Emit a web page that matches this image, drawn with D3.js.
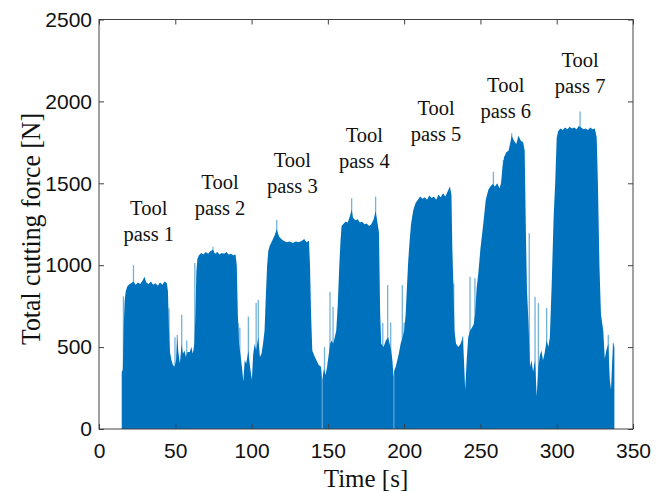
<!DOCTYPE html>
<html>
<head>
<meta charset="utf-8">
<script src="https://cdn.jsdelivr.net/npm/d3@7"></script>
<style>
  body { margin: 0; background: #fff; }
  svg { display: block; }
</style>
</head>
<body>
<div id="chart"></div>
<script>
// Upper envelope of the force signal (time in s, force in N)
const envTime = [
  14.9, 14.9, 15.6, 16.2, 16.8, 17.5, 18.5, 19.5, 21, 22.6, 24, 25.5, 27, 28.5, 29.8, 31, 32.5, 34, 35.5, 37, 38.5, 40, 41.5, 43, 44.5, 45.2,
  45.8, 46.5, 47.5, 48.5, 49.5, 50.5, 51.3, 52, 53, 54.2, 55, 56, 57, 58, 59.5, 60.5, 61.5, 62.5, 63.2, 63.8, 64.5,
  65.5, 67, 68.5, 70, 71.5, 73, 74.7, 76, 77.5, 79, 80.5, 82, 83.5, 85, 86.5, 88, 89.5, 90.3,
  91, 91.8, 92.8, 94, 94.6, 95.5, 96.5, 97.9, 99, 100.2, 101, 102, 103, 104.4, 105.5, 106.5, 107.5, 108.5, 109.3, 110.2, 111,
  112, 113.5, 115, 116.5, 118, 119.5, 121, 123, 125, 127, 129, 131, 133, 134.5, 136, 137.6, 138.3,
  139, 139.8, 141, 142.5, 144, 145.5, 146.3, 147.5, 148.5, 149.5, 150.5, 151.5, 152.5, 153.5, 154.5, 155.5, 156.5, 157.5, 158.3, 159,
  160, 161.5, 163, 164.5, 165.6, 166.5, 168, 169.5, 171, 172.5, 174, 175.5, 177, 178.5, 180, 181.3, 182.5, 183.5, 184.3,
  185, 186.5, 188, 189.5, 190.5, 191.5, 192.3, 193, 193.6, 194.5, 195.5, 196.5, 197.7, 199, 200, 201, 202, 202.7, 203.6, 204.5, 206,
  207.5, 209, 210.5, 212, 213.5, 215, 216.5, 218, 219.5, 221, 222.5, 224, 225.5, 227, 228.5, 230, 231, 231.6,
  232.2, 233, 234, 235.5, 237, 238.4, 239.3, 240, 241, 242, 243.2, 244.5, 245.6, 246.5, 247.5, 248.6, 250, 251.9, 253.5, 255.2,
  256.5, 258, 259.5, 261, 262.5, 263.5, 264.5, 265.5, 267, 268.5, 270.5, 272, 273.5, 274.9, 276.5, 278, 279, 279.8,
  280.5, 281.5, 282.5, 283.5, 284.5, 285.8, 286.9, 288, 289, 290, 291, 292, 293.4, 294.5, 295.5, 296.7, 298, 299, 300,
  301, 302.5, 304, 305.5, 307, 308.5, 310, 311.5, 313, 314.5, 316, 317.5, 319, 320.5, 322, 323.5, 325, 326.2,
  327, 328, 329, 330.5, 331.5, 332.5, 333.8, 334.8, 335.6, 336.4, 337.1, 337.8, 337.8
];
const envForce = [
  0, 350, 360, 620, 780, 840, 870, 880, 890, 900, 880, 895, 885, 905, 930, 895, 885, 900, 880, 890, 875, 895, 880, 900, 890, 840,
  620, 470, 420, 390, 380, 420, 560, 470, 400, 520, 460, 480, 440, 470, 470, 500, 460, 520, 700, 960, 1040,
  1060, 1075, 1065, 1080, 1070, 1085, 1095, 1070, 1080, 1065, 1075, 1070, 1080, 1065, 1070, 1060, 1065, 1000,
  700, 520, 450, 350, 290, 420, 400, 480, 380, 300, 450, 520, 480, 560, 440, 460, 520, 600, 800, 1000, 1090,
  1120, 1150, 1180, 1220, 1175, 1160, 1150, 1140, 1145, 1135, 1145, 1140, 1150, 1160, 1140, 1150, 1000,
  700, 480, 450, 420, 390, 380, 300, 370, 330, 380, 450, 520, 540, 520, 560, 600, 760, 1000, 1150, 1240,
  1250, 1265, 1260, 1300, 1340, 1290, 1275, 1280, 1260, 1265, 1250, 1255, 1240, 1250, 1280, 1330, 1260, 1200, 700,
  520, 500, 540, 560, 520, 480, 420, 320, 360, 380, 420, 460, 520, 560, 600, 700, 900, 1030, 1150, 1250, 1337,
  1380, 1400, 1420, 1405, 1415, 1400, 1425, 1410, 1420, 1400, 1430, 1415, 1440, 1420, 1450, 1480, 1430, 1100,
  900, 600, 520, 500, 520, 560, 400, 240, 420, 560, 600, 620, 640, 700, 860, 950, 1100, 1256, 1400, 1460,
  1480, 1495, 1480, 1500, 1470, 1500, 1600, 1660, 1690, 1700, 1790, 1760, 1740, 1790, 1760, 1750, 1700, 1200,
  850, 650, 380, 420, 350, 420, 200, 380, 450, 480, 420, 460, 540, 500, 560, 880, 1300, 1500, 1780,
  1820, 1835, 1825, 1840, 1830, 1845, 1835, 1840, 1830, 1850, 1840, 1830, 1835, 1825, 1840, 1830, 1835, 1780,
  1500, 1000, 700, 600, 430, 480, 520, 300, 240, 420, 520, 500, 0
];

// Thin isolated spikes above the envelope
const spikeTime  = [16, 22.6, 45.9, 49.8, 51.3, 54.2, 57.5, 62.8, 74.7, 91.2, 92.3, 97.9, 103, 104.4,
                    116.5, 147.8, 151.4, 153.4, 165.6, 181.3, 186, 189.2, 191.2, 198.8, 200, 232.5, 238.4,
                    243.2, 246.4, 258.5, 265, 270.5, 282, 285.8, 288, 293.4, 315.3, 328.4, 333.8, 337.1];
const spikeForce = [810, 1000, 737, 560, 574, 697, 540, 1013, 1113, 645, 620, 686, 769, 788,
                    1276, 500, 838, 747, 1409, 1419, 647, 879, 650, 879, 650, 890, 564,
                    930, 920, 1571, 1643, 1806, 1195, 808, 769, 739, 1938, 708, 574, 525];

// Short drop-outs where the signal falls to zero
const dropTime = [146.3, 193.3];
const dropForce = [330, 340];

// Annotations
const passNames = ["1", "2", "3", "4", "5", "6", "7"];
const passLabelTime  = [32.6, 79.3, 126.7, 173.9, 220.9, 266.6, 315.3];
const passLabelForce = [1307, 1466, 1602, 1755, 1918, 2060, 2213];

const xTicks = [0, 50, 100, 150, 200, 250, 300, 350];
const yTicks = [0, 500, 1000, 1500, 2000, 2500];

const width = 664, height = 492;
const margin = { top: 19.5, right: 31, bottom: 63, left: 99 };
const blue = "#0072BD";

const svg = d3.select("#chart")
    .append("svg")
    .attr("width", width)
    .attr("height", height);

const x = d3.scaleLinear()
    .domain([0, 350])
    .range([margin.left, width - margin.right]);

const y = d3.scaleLinear()
    .domain([0, 2500])
    .range([height - margin.bottom, margin.top]);

const env = envTime.map((t, i) => ({ t: t, f: envForce[i] }));
const spikes = spikeTime.map((t, i) => ({ t: t, f: spikeForce[i] }));
const drops = dropTime.map((t, i) => ({ t: t, f: dropForce[i] }));

// Spikes (drawn in a lighter tone, like the thin anti-aliased line peaks)
svg.selectAll("line.spike")
    .data(spikes)
    .enter()
    .append("line")
    .attr("class", "spike")
    .attr("x1", d => x(d.t))
    .attr("x2", d => x(d.t))
    .attr("y1", y(0))
    .attr("y2", d => y(d.f))
    .attr("stroke", blue)
    .attr("stroke-opacity", 0.55)
    .attr("stroke-width", 1.3);

// Filled signal
const area = d3.area()
    .x(d => x(d.t))
    .y0(y(0))
    .y1(d => y(d.f));

svg.append("path")
    .datum(env)
    .attr("fill", blue)
    .attr("d", area);

// Drop-outs
svg.selectAll("line.drop")
    .data(drops)
    .enter()
    .append("line")
    .attr("class", "drop")
    .attr("x1", d => x(d.t))
    .attr("x2", d => x(d.t))
    .attr("y1", y(0))
    .attr("y2", d => y(d.f))
    .attr("stroke", "#fff")
    .attr("stroke-opacity", 0.45)
    .attr("stroke-width", 1);

// Axes (MATLAB style: ticks inside, box all round)
const tickFont = "'Liberation Sans', Arial, Helvetica, sans-serif";

const xAxis = svg.append("g")
    .attr("transform", `translate(0, ${y(0)})`)
    .call(d3.axisBottom(x).tickValues(xTicks).tickSize(-5).tickPadding(14).tickFormat(d3.format("d")));

const yAxis = svg.append("g")
    .attr("transform", `translate(${x(0)}, 0)`)
    .call(d3.axisLeft(y).tickValues(yTicks).tickSize(-5).tickPadding(7).tickFormat(d3.format("d")));

svg.append("g")
    .attr("transform", `translate(0, ${y(2500)})`)
    .call(d3.axisTop(x).tickValues(xTicks).tickSize(-5).tickFormat(""));

svg.append("g")
    .attr("transform", `translate(${x(350)}, 0)`)
    .call(d3.axisRight(y).tickValues(yTicks).tickSize(-5).tickFormat(""));

svg.selectAll(".domain").remove();
svg.selectAll(".tick line").attr("stroke", "#404040").attr("stroke-width", 1);

[xAxis, yAxis].forEach(g => g.selectAll("text")
    .attr("font-family", tickFont)
    .attr("font-size", 21)
    .attr("fill", "#111"));
xAxis.selectAll("text").attr("dy", "0.71em");

svg.append("rect")
    .attr("x", x(0))
    .attr("y", y(2500))
    .attr("width", x(350) - x(0))
    .attr("height", y(0) - y(2500))
    .attr("fill", "none")
    .attr("stroke", "#404040")
    .attr("stroke-width", 1);

// Pass labels
const serif = "'Liberation Serif', 'Times New Roman', Times, serif";
passNames.forEach((p, i) => {
    const t = svg.append("text")
        .attr("x", x(passLabelTime[i]))
        .attr("y", y(passLabelForce[i]))
        .attr("text-anchor", "middle")
        .attr("font-family", serif)
        .attr("font-size", 20.5)
        .attr("fill", "#111");
    t.append("tspan").attr("x", x(passLabelTime[i])).text("Tool");
    t.append("tspan").attr("x", x(passLabelTime[i])).attr("dy", 26.5).text("pass " + p);
});

// Axis labels
svg.append("text")
    .attr("x", (x(0) + x(350)) / 2)
    .attr("y", 487)
    .attr("text-anchor", "middle")
    .attr("font-family", serif)
    .attr("font-size", 25)
    .attr("fill", "#111")
    .text("Time [s]");

svg.append("text")
    .attr("transform", "translate(40, 229) rotate(-90) scale(0.92, 1)")
    .attr("text-anchor", "middle")
    .attr("font-family", serif)
    .attr("font-size", 28)
    .attr("fill", "#111")
    .text("Total cutting force [N]");
</script>
</body>
</html>
